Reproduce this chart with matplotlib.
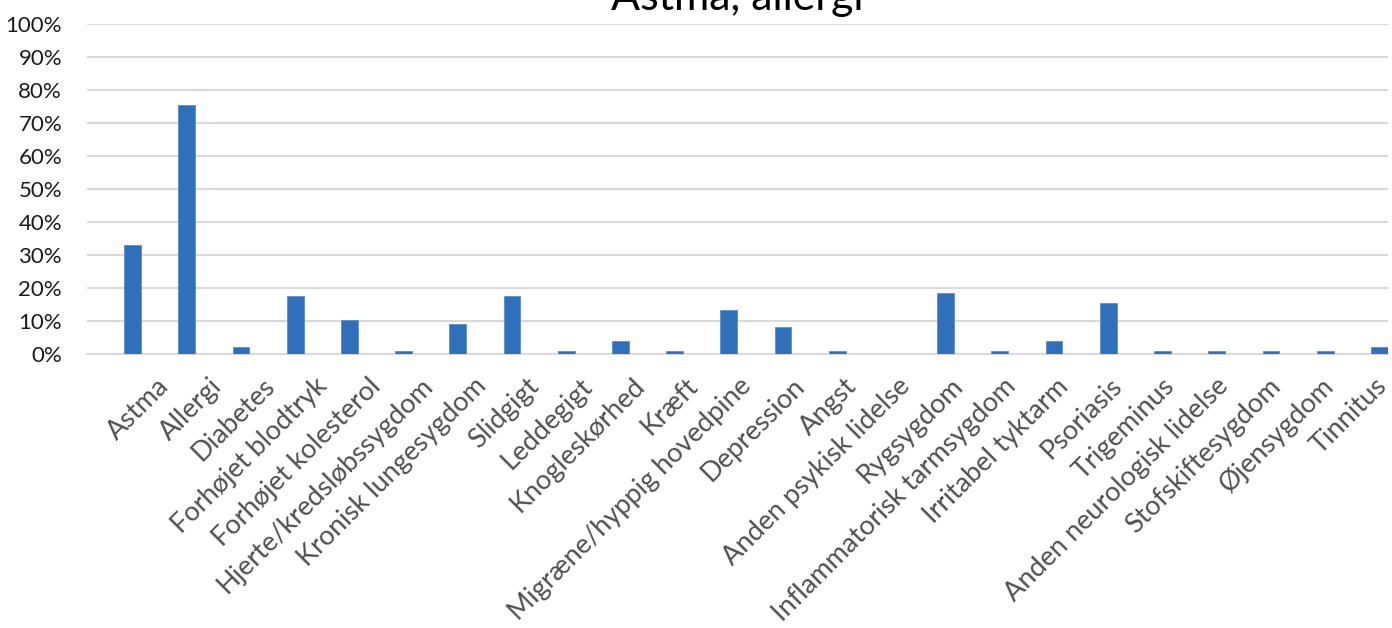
import matplotlib
matplotlib.use('Agg')
import matplotlib.pyplot as plt
import numpy as np
from matplotlib.ticker import PercentFormatter

# Categories and share of respondents (%)
categories = ['Astma', 'Allergi', 'Diabetes', 'Forhøjet blodtryk', 'Forhøjet kolesterol',
              'Hjerte/kredsløbssygdom', 'Kronisk lungesygdom', 'Slidgigt', 'Leddegigt',
              'Knogleskørhed', 'Kræft', 'Migræne/hyppig hovedpine', 'Depression', 'Angst',
              'Anden psykisk lidelse', 'Rygsygdom', 'Inflammatorisk tarmsygdom',
              'Irritabel tyktarm', 'Psoriasis', 'Trigeminus', 'Anden neurologisk lidelse',
              'Stofskiftesygdom', 'Øjensygdom', 'Tinnitus']
values = [33.1, 75.4, 2.0, 17.5, 10.3, 1.0, 9.2, 17.5, 1.0, 4.0, 1.0, 13.4,
          8.2, 1.0, 0.0, 18.5, 1.0, 4.0, 15.5, 1.0, 1.0, 1.0, 1.0, 2.0]
title = 'Astma, allergi'

plt.rcParams['font.family'] = ['Lato', 'DejaVu Sans']

W, H = 1392, 628
fig = plt.figure(figsize=(W / 100, H / 100), dpi=100)
ax = fig.add_axes([87 / W, 1 - 354 / H, (1388 - 87) / W, (354 - 24) / H])

x = np.arange(len(categories))
ax.bar(x + 0.34, values, width=0.31, color='#3070BA', edgecolor='#5A8ED0',
       linewidth=0.6, zorder=3)

ax.set_xlim(-0.5, len(categories) - 0.5)
ax.set_ylim(0, 100)
ax.set_yticks(np.arange(0, 101, 10))
ax.yaxis.set_major_formatter(PercentFormatter(decimals=0))
ax.grid(axis='y', color='#D9D9D9', linewidth=1.5, zorder=0)

for s in ['top', 'right', 'left']:
    ax.spines[s].set_visible(False)
ax.spines['bottom'].set_color('#D9D9D9')
ax.spines['bottom'].set_linewidth(1.5)

ax.tick_params(axis='y', length=0, pad=18, labelsize=16, labelcolor='#1A1A1A')

# category labels sit slightly tighter than the bars
label_pos = 0.77 + x * 0.977
ax.set_xticks(label_pos)
ax.set_xticklabels(categories, rotation=45, ha='right', rotation_mode='anchor',
                   fontsize=19.5, color='#505050')
ax.tick_params(axis='x', length=0, pad=14)

fig.text(737 / W, 1 - 10 / H, title, ha='center', va='baseline', fontsize=31,
         color='#000000')

fig.savefig('out.png', dpi=100)
